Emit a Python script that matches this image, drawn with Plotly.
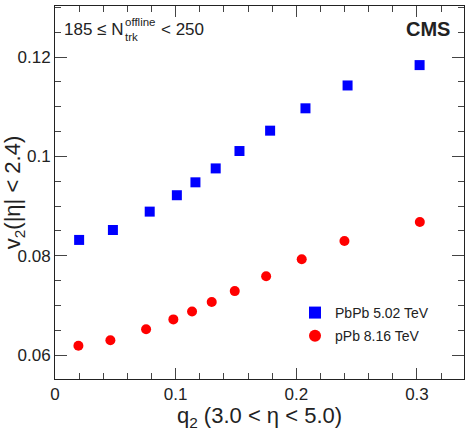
import plotly.graph_objects as go

q2_pbpb = [0.020, 0.048, 0.0785, 0.101, 0.1164, 0.1332, 0.1529, 0.1783, 0.2076, 0.2425, 0.3022]
v2_pbpb = [0.0832, 0.0852, 0.0889, 0.0922, 0.0948, 0.0976, 0.1011, 0.1052, 0.1097, 0.1143, 0.1184]

q2_ppb = [0.0194, 0.0459, 0.0755, 0.0981, 0.1136, 0.1299, 0.149, 0.175, 0.2045, 0.2399, 0.3024]
v2_ppb = [0.0619, 0.0630, 0.0652, 0.0672, 0.0688, 0.0707, 0.0729, 0.0759, 0.0793, 0.0830, 0.0868]

FONT = "Liberation Sans, Arial, sans-serif"
TXT = "#222"

fig = go.Figure()
fig.add_trace(go.Scatter(x=q2_pbpb, y=v2_pbpb, mode="markers", name="PbPb 5.02 TeV", legend="legend",
                         marker=dict(symbol="square", size=10, color="#0000ff")))
fig.add_trace(go.Scatter(x=q2_ppb, y=v2_ppb, mode="markers", name="pPb 8.16 TeV", legend="legend2",
                         marker=dict(symbol="circle", size=10, color="#ff0000")))

axis_common = dict(showgrid=False, zeroline=False, showline=True, linecolor="#222", linewidth=1,
                   mirror="allticks", ticks="inside", tickcolor="#444", tickwidth=1,
                   tickfont=dict(size=17, color=TXT, family=FONT), automargin=False)

leg_common = dict(x=0.5868, xanchor="left", yanchor="middle", bgcolor="rgba(0,0,0,0)",
                  font=dict(size=14, family=FONT, color=TXT), itemsizing="constant")

fig.update_layout(
    template="none",
    width=470, height=431,
    margin=dict(l=55, r=6, t=6, b=52),
    paper_bgcolor="white", plot_bgcolor="white",
    font=dict(family=FONT, color=TXT),
    showlegend=True,
    legend=dict(y=0.177, **leg_common),
    legend2=dict(y=0.115, **leg_common),
    xaxis=dict(range=[0, 0.339], dtick=0.1, tick0=0, ticklen=11,
               minor=dict(dtick=0.02, ticklen=6, ticks="inside", tickcolor="#444"),
               title=dict(text="q<sub>2</sub> (3.0 < η < 5.0)", font=dict(size=22, family=FONT, color=TXT), standoff=10),
               **axis_common),
    yaxis=dict(range=[0.0552, 0.1303], dtick=0.02, tick0=0, ticklen=12,
               minor=dict(dtick=0.005, ticklen=6, ticks="inside", tickcolor="#444"),
               title=dict(text="v<sub>2</sub>(|η| < 2.4)", font=dict(size=22, family=FONT, color=TXT), standoff=4),
               **axis_common),
)

def note(text, x, y, size, anchor="left"):
    fig.add_annotation(text=text, xref="paper", yref="paper", x=x, y=y, xanchor=anchor, yanchor="middle",
                       showarrow=False, borderpad=0, borderwidth=0, font=dict(size=size, family=FONT, color=TXT))

note("185 ≤ N", 0.0215, 0.937, 17)
note("offline", 0.17, 0.957, 11.5)
note("trk", 0.17, 0.917, 11.5)
note("< 250", 0.258, 0.937, 17)
note("<b>CMS</b>", 0.966, 0.937, 20, anchor="right")

fig.write_html("out.html")
